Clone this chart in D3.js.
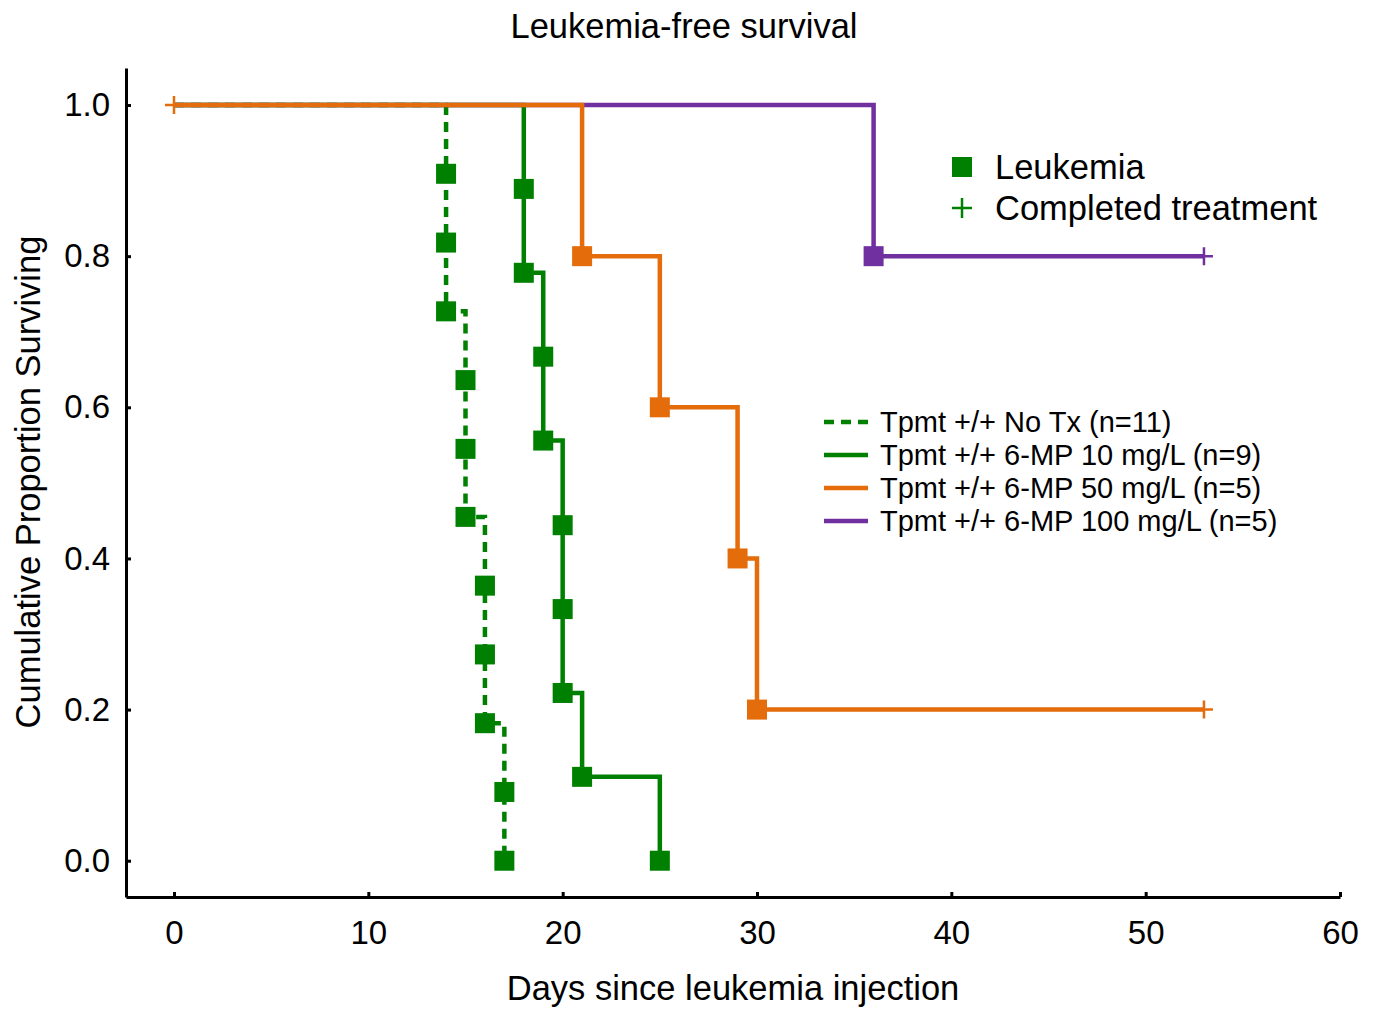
<!DOCTYPE html>
<html lang="en">
<head>
<meta charset="UTF-8" />
<title>Leukemia-free survival</title>
<script src="https://cdn.jsdelivr.net/npm/d3@7"></script>
<style>
  body { margin: 0; background: #fff; }
  svg text { font-family: "Liberation Sans", Arial, sans-serif; fill: #000; }
</style>
</head>
<body>
<script>
// survival steps
var noTxTimes = [14, 14, 14, 15, 15, 15, 16, 16, 16, 17, 17];
var noTxSurv  = [0.909, 0.818, 0.727, 0.636, 0.545, 0.455, 0.364, 0.273, 0.182, 0.091, 0];

var mp10Times = [18, 18, 19, 19, 20, 20, 20, 21, 25];
var mp10Surv  = [0.889, 0.778, 0.667, 0.556, 0.444, 0.333, 0.222, 0.111, 0];

var mp50Times = [21, 25, 29, 30];
var mp50Surv  = [0.8, 0.6, 0.4, 0.2];
var mp50Censor = [[0, 1.0], [53, 0.2]];

var mp100Times = [36];
var mp100Surv  = [0.8];
var mp100Censor = [[53, 0.8]];

var seriesNames = ["Tpmt +/+ No Tx (n=11)", "Tpmt +/+ 6-MP 10 mg/L (n=9)",
                   "Tpmt +/+ 6-MP 50 mg/L (n=5)", "Tpmt +/+ 6-MP 100 mg/L (n=5)"];
var xTicks = [0, 10, 20, 30, 40, 50, 60];
var yTicks = [0, 0.2, 0.4, 0.6, 0.8, 1.0];

var green = "#008000", orange = "#e46c0a", purple = "#7030a0";

var width = 1378, height = 1011;
var svg = d3.select("body").append("svg")
  .attr("width", width).attr("height", height);

var x = d3.scaleLinear().domain([-2.47, 60]).range([126, 1340]);
var y = d3.scaleLinear().domain([-0.048, 1.049]).range([897, 68]);

// axes, ticks point inward
var xAxis = d3.axisBottom(x).tickValues(xTicks).tickSizeInner(-5).tickSizeOuter(0).tickPadding(27);
var yAxis = d3.axisLeft(y).tickValues(yTicks).tickSizeInner(-5).tickSizeOuter(0).tickPadding(16)
  .tickFormat(d3.format(".1f"));

var gx = svg.append("g").attr("transform", "translate(0,897)").call(xAxis);
var gy = svg.append("g").attr("transform", "translate(126,0)").call(yAxis);
[gx, gy].forEach(function(g) {
  g.select(".domain").attr("stroke", "#000").attr("stroke-width", 3);
  g.selectAll(".tick line").attr("stroke", "#000").attr("stroke-width", 3);
  g.selectAll(".tick text").style("font-size", "33px").attr("fill", "#000");
});
gx.selectAll(".tick text").attr("dy", "0.62em");

// titles
svg.append("text").attr("x", 684).attr("y", 38).attr("text-anchor", "middle")
  .style("font-size", "34.5px").text("Leukemia-free survival");
svg.append("text").attr("x", 733).attr("y", 1000).attr("text-anchor", "middle")
  .style("font-size", "34.5px").text("Days since leukemia injection");
svg.append("text").attr("transform", "translate(40,482) rotate(-90)").attr("text-anchor", "middle")
  .style("font-size", "34.5px").text("Cumulative Proportion Surviving");

var line = d3.line()
  .x(function(d) { return x(d[0]); })
  .y(function(d) { return y(d[1]); })
  .curve(d3.curveStepAfter);

function drawCurve(times, surv, endT, color, dash) {
  var pts = [[0, 1]];
  times.forEach(function(t, i) { pts.push([t, surv[i]]); });
  if (endT != null) pts.push([endT, surv[surv.length - 1]]);
  svg.append("path").datum(pts).attr("d", line)
    .attr("fill", "none").attr("stroke", color).attr("stroke-width", 4.5)
    .attr("stroke-dasharray", dash || null);
  svg.append("g").selectAll("rect").data(times).enter().append("rect")
    .attr("x", function(t) { return x(t) - 10; })
    .attr("y", function(t, i) { return y(surv[i]) - 10; })
    .attr("width", 20).attr("height", 20)
    .attr("fill", color);
}

function drawCensor(list, color) {
  list.forEach(function(c) {
    var cx = x(c[0]), cy = y(c[1]);
    svg.append("path")
      .attr("d", "M" + (cx - 9) + "," + cy + "H" + (cx + 9) + "M" + cx + "," + (cy - 9) + "V" + (cy + 9))
      .attr("stroke", color).attr("stroke-width", 2.5).attr("fill", "none");
  });
}

drawCurve(noTxTimes, noTxSurv, null, green, "10,7");
drawCurve(mp10Times, mp10Surv, null, green);
drawCurve(mp100Times, mp100Surv, 53, purple);
drawCensor(mp100Censor, purple);
drawCurve(mp50Times, mp50Surv, 53, orange);
drawCensor(mp50Censor, orange);

// marker legend
svg.append("rect").attr("x", 952).attr("y", 157).attr("width", 20).attr("height", 20).attr("fill", green);
svg.append("text").attr("x", 995).attr("y", 179).style("font-size", "34.5px").text("Leukemia");
svg.append("path").attr("d", "M952,208H972M962,198V218").attr("stroke", green).attr("stroke-width", 2.5);
svg.append("text").attr("x", 995).attr("y", 220).style("font-size", "34.5px").text("Completed treatment");

// line legend
var legColors = [green, green, orange, purple];
var legDash = ["10,7", null, null, null];
var leg = svg.append("g").selectAll("g").data(seriesNames).enter().append("g")
  .attr("transform", function(d, i) { return "translate(824," + (422 + i * 33) + ")"; });
leg.append("line").attr("x1", 0).attr("x2", 44)
  .attr("stroke", function(d, i) { return legColors[i]; })
  .attr("stroke-width", 4.5)
  .attr("stroke-dasharray", function(d, i) { return legDash[i]; });
leg.append("text").attr("x", 56).attr("y", 10).style("font-size", "29px")
  .text(function(d) { return d; });
</script>
</body>
</html>
